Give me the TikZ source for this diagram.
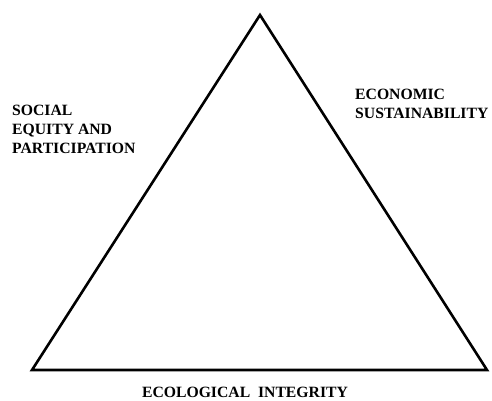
\documentclass[tikz,border=0pt]{standalone}
\usepackage{fontspec}
\setmainfont{Liberation Serif}
\begin{document}
\begin{tikzpicture}[x=1pt,y=-1pt,
  lbl/.style={font=\fontsize{15.7}{18}\selectfont\bfseries, inner sep=0pt, anchor=base west},
  edge/.style={line width=2.6pt, line join=miter}]
\useasboundingbox (0,0) rectangle (492,401);
\coordinate (top) at (260,15);
\coordinate (bl) at (32,370);
\coordinate (br) at (487,370);
\draw[edge] (top) -- (bl) -- (br) -- cycle;
\node[lbl] (s1) at (12,116) {SOCIAL};
\node[lbl] (s2) at (12,134.5) {EQUITY AND};
\node[lbl] (s3) at (12,153) {PARTICIPATION};
\node[lbl] (e1) at (355,99.5) {ECONOMIC};
\node[lbl] (e2) at (355,118) {SUSTAINABILITY};
\node[lbl, anchor=base] (g) at (245,397.5) {ECOLOGICAL\ \ INTEGRITY};
\end{tikzpicture}
\end{document}
